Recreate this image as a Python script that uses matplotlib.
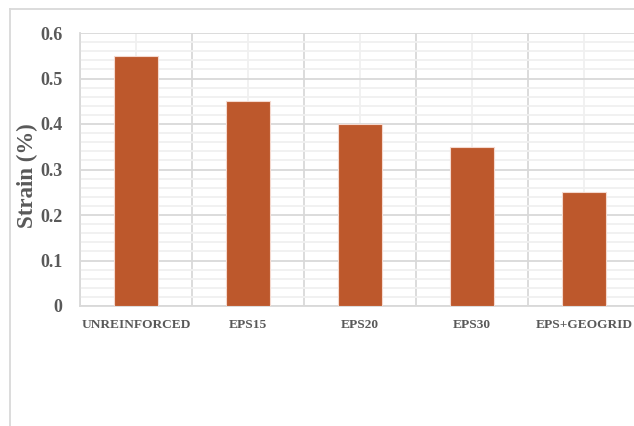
import matplotlib
matplotlib.use("Agg")
import matplotlib.pyplot as plt
from matplotlib.lines import Line2D
import numpy as np

categories = ["UNREINFORCED", "EPS15", "EPS20", "EPS30", "EPS+GEOGRID"]
strain = [0.55, 0.45, 0.40, 0.35, 0.25]
yticks = [0, 0.1, 0.2, 0.3, 0.4, 0.5, 0.6]
ytick_labels = ["0", "0.1", "0.2", "0.3", "0.4", "0.5", "0.6"]

W, H = 634, 426
fig = plt.figure(figsize=(W / 100, H / 100), dpi=100)
left, right, top, bottom = 80, 640, 33, 306
ax = fig.add_axes([left / W, 1 - bottom / H, (right - left) / W, (bottom - top) / H])

x = np.arange(len(categories))
ax.bar(x, strain, width=0.4, color="#BD582C", edgecolor="#F4D9CF", linewidth=0.8, zorder=3)

ax.set_xlim(-0.5, len(categories) - 0.5)
ax.set_ylim(0, 0.6)

# grid
ax.set_yticks(yticks)
ax.set_yticklabels(ytick_labels)
ax.set_yticks(np.arange(0, 0.6001, 0.02), minor=True)
ax.set_xticks(x)
ax.set_xticklabels(categories)
ax.set_xticks(np.arange(-0.5, len(categories), 1.0), minor=True)

ax.grid(which="minor", axis="y", color="#F0F0F0", linewidth=1.3, zorder=0)
ax.grid(which="major", axis="y", color="#D9D9D9", linewidth=1.3, zorder=1)
ax.grid(which="minor", axis="x", color="#D9D9D9", linewidth=1.3, zorder=1)
ax.grid(which="major", axis="x", color="#F0F0F0", linewidth=1.3, zorder=0)

for s in ["top", "right"]:
    ax.spines[s].set_visible(False)
ax.spines["left"].set_color("#D9D9D9")
ax.spines["bottom"].set_color("#D9D9D9")
ax.spines["left"].set_linewidth(1.3)
ax.spines["bottom"].set_linewidth(1.3)

ax.tick_params(which="both", length=0)
ax.tick_params(axis="y", pad=12.5)
ax.tick_params(axis="x", pad=9)
for lab in ax.get_yticklabels():
    lab.set_fontfamily("Liberation Serif")
    lab.set_fontweight("bold")
    lab.set_fontsize(13)
    lab.set_color("#595959")
for lab in ax.get_xticklabels():
    lab.set_fontfamily("Liberation Serif")
    lab.set_fontweight("bold")
    lab.set_fontsize(9.6)
    lab.set_color("#595959")

fig.text(27 / W, 1 - 176 / H, "Strain (%)", rotation=90, ha="center", va="center",
         fontfamily="Liberation Serif", fontweight="bold", fontsize=16.5, color="#595959")

# outer chart border
fig.add_artist(Line2D([10 / W, 10 / W], [0, 1 - 9 / H], transform=fig.transFigure,
                      color="#D9D9D9", linewidth=1.3))
fig.add_artist(Line2D([10 / W, 1], [1 - 9 / H, 1 - 9 / H], transform=fig.transFigure,
                      color="#D9D9D9", linewidth=1.3))

fig.savefig("out.png", dpi=100)
